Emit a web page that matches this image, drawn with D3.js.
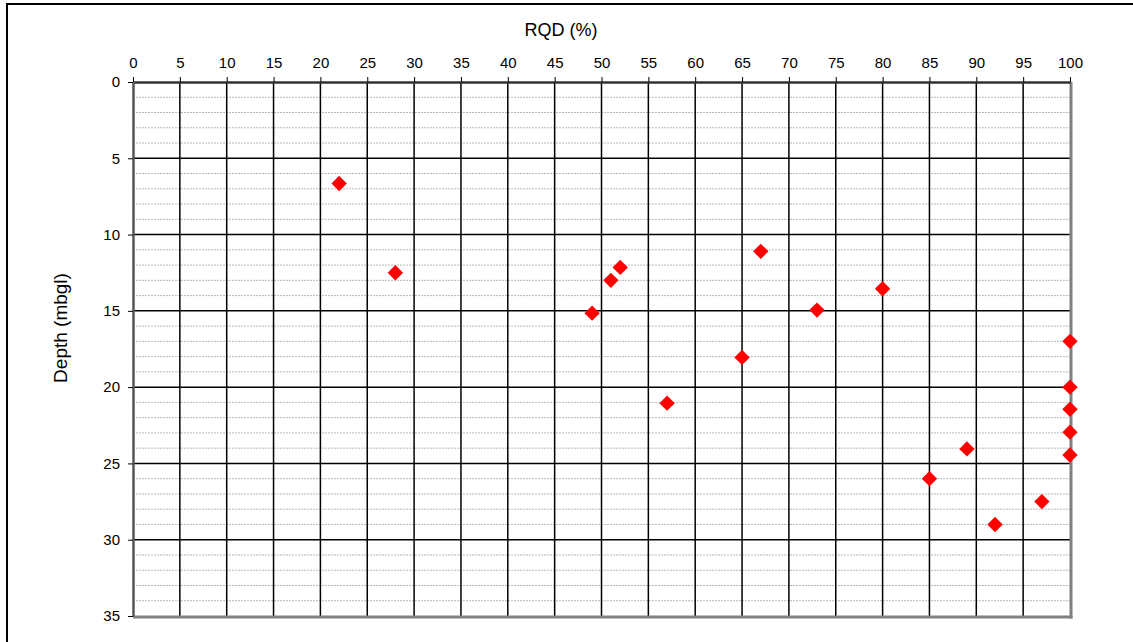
<!DOCTYPE html>
<html>
<head>
<meta charset="utf-8">
<script src="https://cdn.jsdelivr.net/npm/d3@7"></script>
<style>
  body { margin: 0; background: #fff; }
  text { font-family: "Liberation Sans", Arial, sans-serif; fill: #000; }
</style>
</head>
<body>
<div id="chart"></div>
<script>
// RQD readings: x = RQD (%), y = depth (mbgl)
const rqd   = [22, 28, 49, 51, 52, 57, 65, 67, 73, 80, 85, 89, 92, 97, 100, 100, 100, 100, 100];
const depth = [6.65, 12.5, 15.15, 13.0, 12.15, 21.05, 18.05, 11.1, 14.95, 13.55, 26.0, 24.05, 29.0, 27.5, 17.0, 20.0, 21.45, 22.95, 24.45];
const xTicks = [0, 5, 10, 15, 20, 25, 30, 35, 40, 45, 50, 55, 60, 65, 70, 75, 80, 85, 90, 95, 100];
const yTicks = [0, 5, 10, 15, 20, 25, 30, 35];
const yMinor = d3.range(0, 36, 1);

const width = 1133, height = 642;
const margin = {top: 82, left: 133, right: 63, bottom: 26};

const svg = d3.select("#chart").append("svg")
    .attr("width", width)
    .attr("height", height);

// outer frame
svg.append("rect")
    .attr("x", 7).attr("y", 4)
    .attr("width", width + 10).attr("height", height + 10)
    .attr("fill", "none").attr("stroke", "#000").attr("stroke-width", 2);

const xScale = d3.scaleLinear().domain([0, 100]).range([margin.left, width - margin.right]);
const yScale = d3.scaleLinear().domain([0, 35]).range([margin.top, height - margin.bottom]);

// minor horizontal dotted lines
svg.append("g").selectAll("line")
    .data(yMinor.filter(d => d % 5 !== 0))
    .join("line")
    .attr("x1", xScale(0)).attr("x2", xScale(100))
    .attr("y1", d => yScale(d)).attr("y2", d => yScale(d))
    .attr("stroke", "#b8b8b8").attr("stroke-width", 1)
    .attr("stroke-dasharray", "2,1");

// major grid
svg.append("g").selectAll("line")
    .data(xTicks.slice(1, -1))
    .join("line")
    .attr("x1", d => xScale(d)).attr("x2", d => xScale(d))
    .attr("y1", yScale(0)).attr("y2", yScale(35))
    .attr("stroke", "#000").attr("stroke-width", 1.5);

svg.append("g").selectAll("line")
    .data(yTicks.slice(1, -1))
    .join("line")
    .attr("x1", xScale(0)).attr("x2", xScale(100))
    .attr("y1", d => yScale(d)).attr("y2", d => yScale(d))
    .attr("stroke", "#000").attr("stroke-width", 1.5);

// plot border: grey right and bottom
svg.append("line")
    .attr("x1", xScale(100) + 1).attr("x2", xScale(100) + 1)
    .attr("y1", yScale(0)).attr("y2", yScale(35) + 2.5)
    .attr("stroke", "#808080").attr("stroke-width", 3);
svg.append("line")
    .attr("x1", xScale(0)).attr("x2", xScale(100) + 2.5)
    .attr("y1", yScale(35) + 1).attr("y2", yScale(35) + 1)
    .attr("stroke", "#808080").attr("stroke-width", 3);

// axes
const xAxis = svg.append("g")
    .attr("transform", `translate(0,${margin.top})`)
    .call(d3.axisTop(xScale).tickValues(xTicks).tickSize(5).tickSizeOuter(0).tickPadding(9));
xAxis.select(".domain").attr("stroke", "#333").attr("stroke-width", 2.5);
xAxis.selectAll(".tick line").attr("stroke", "#000");
xAxis.selectAll("text").style("font-size", "15px").attr("fill", "#000");

const yAxis = svg.append("g")
    .attr("transform", `translate(${margin.left},0)`)
    .call(d3.axisLeft(yScale).tickValues(yTicks).tickSize(5).tickSizeOuter(0).tickPadding(8));
yAxis.select(".domain").attr("stroke", "#555").attr("stroke-width", 2.5);
yAxis.selectAll(".tick line").attr("stroke", "#000");
yAxis.selectAll("text").style("font-size", "15px").attr("fill", "#000");

// points
const diamond = d3.symbol().type(d3.symbolSquare).size(118);
svg.append("g").selectAll("path")
    .data(rqd.map((r, i) => ({rqd: r, depth: depth[i]})))
    .join("path")
    .attr("d", diamond)
    .attr("transform", d => `translate(${xScale(d.rqd)},${yScale(d.depth)}) rotate(45)`)
    .attr("fill", "#ff0000");

// axis labels
svg.append("text")
    .attr("x", 561)
    .attr("y", 36)
    .attr("text-anchor", "middle")
    .style("font-size", "18px")
    .text("RQD (%)");

svg.append("text")
    .attr("transform", "rotate(-90)")
    .attr("x", -328)
    .attr("y", 67)
    .attr("text-anchor", "middle")
    .style("font-size", "19px")
    .text("Depth (mbgl)");
</script>
</body>
</html>
